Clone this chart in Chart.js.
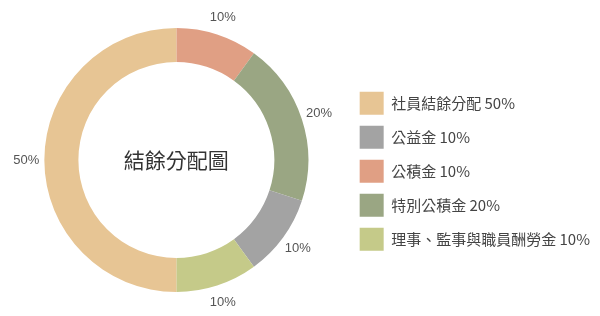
<!DOCTYPE html>
<html><head><meta charset="utf-8">
<script src="https://cdn.jsdelivr.net/npm/chart.js@4.4.1/dist/chart.umd.min.js"></script>
<style>html,body{margin:0;padding:0;background:#fff;} #wrap{width:600px;height:316px;position:relative;}</style>
</head><body><div id="wrap"><canvas id="c" width="600" height="316"></canvas></div>
<script>
const categories = ['公積金','特別公積金','公益金','理事、監事與職員酬勞金','社員結餘分配'];
const values = [10, 20, 10, 10, 50];
const colors = ['#E09F84','#9AA683','#A3A3A3','#C5CA89','#E7C594'];
const legendOrder = ['社員結餘分配','公益金','公積金','特別公積金','理事、監事與職員酬勞金'];
const centerTitle = '結餘分配圖';

const sliceLabels = {
  id: 'sliceLabels',
  afterDatasetsDraw(chart) {
    const ctx = chart.ctx;
    const meta = chart.getDatasetMeta(0);
    ctx.save();
    ctx.font = '13px "Liberation Sans", Arial, sans-serif';
    ctx.fillStyle = '#555';
    ctx.textAlign = 'center';
    ctx.textBaseline = 'middle';
    meta.data.forEach((arc, i) => {
      const p = arc.getProps(['x','y','startAngle','endAngle','outerRadius'], true);
      const a = (p.startAngle + p.endAngle) / 2;
      const r = p.outerRadius + 18;
      ctx.fillText(values[i] + '%', p.x + Math.cos(a) * r, p.y + Math.sin(a) * r);
    });
    const c = meta.data[0].getProps(['x','y'], true);
    ctx.font = '21px "Noto Sans CJK TC", sans-serif';
    ctx.fillStyle = '#333';
    ctx.fillText(centerTitle, c.x, c.y);
    ctx.restore();
  }
};

new Chart(document.getElementById('c'), {
  type: 'doughnut',
  data: {
    labels: categories,
    datasets: [{ data: values, backgroundColor: colors, borderWidth: 0 }]
  },
  options: {
    responsive: false,
    animation: false,
    radius: 132,
    cutout: '74.2%',
    layout: { padding: { left: 4, right: 0, top: 4, bottom: 0 } },
    plugins: {
      tooltip: { enabled: false },
      legend: {
        position: 'right',
        title: { display: true, text: '', padding: { top: 4, bottom: 4 }, font: { size: 12 } },
        labels: {
          boxWidth: 24,
          boxHeight: 23,
          padding: 11,
          color: '#444',
          font: { family: '"Noto Sans CJK TC", sans-serif', size: 15 },
          generateLabels(chart) {
            const items = Chart.overrides.doughnut.plugins.legend.labels.generateLabels(chart);
            return items.map(it => Object.assign(it, { text: categories[it.index] + ' ' + values[it.index] + '%', lineWidth: 0 }));
          },
          sort(a, b) {
            return legendOrder.indexOf(categories[a.index]) - legendOrder.indexOf(categories[b.index]);
          }
        }
      }
    }
  },
  plugins: [sliceLabels]
});
</script>
</body></html>
